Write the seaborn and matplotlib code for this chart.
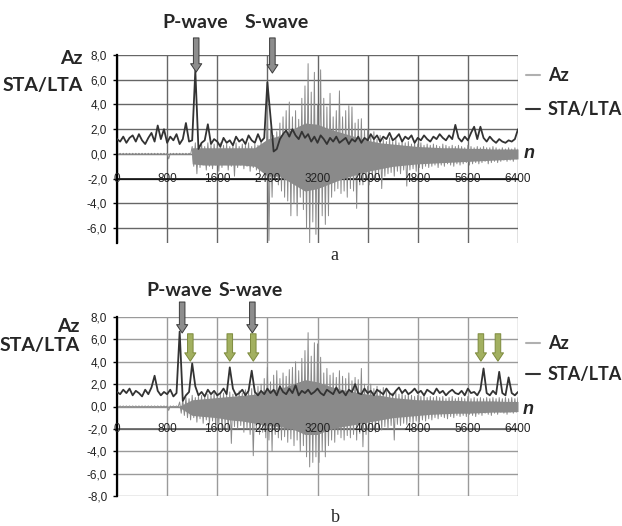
import numpy as np
import pandas as pd
import matplotlib
matplotlib.use("Agg")
import matplotlib.pyplot as plt
import seaborn as sns
from matplotlib.lines import Line2D

# amostras (passo de 50), envelopes
amostras = list(range(0, 6401, 50))

# painel a: envelope superior / inferior de Az (picos)
az_a_sup = [0.05] * 24 + [
    0.6, 0.9, 0.7, 0.8, 0.6, 0.9,
    0.7, 0.8, 0.6, 0.9, 0.7, 0.8, 0.6, 0.7, 0.9, 0.6,
    0.8, 0.7, 0.9, 0.6, 0.8, 0.7, 1.0, 0.9,
    4.2,
    2.0, 1.5, 1.8, 2.5, 3.0, 3.5, 4.2, 3.0, 3.5, 2.8, 4.5,
    5.5, 7.3, 5.0, 6.6, 4.0, 6.8, 4.5, 3.8, 4.9, 3.0,
    3.5, 5.1, 3.0, 3.5, 3.9, 3.8, 2.5, 2.8, 2.85, 2.0,
    2.0, 1.5, 1.8, 1.2, 1.5, 1.2, 1.0, 1.3, 1.0, 1.2,
    0.9, 1.0, 0.9, 1.0, 0.8, 0.9, 0.8, 0.9, 0.7, 0.8,
    0.7, 0.8, 0.7, 0.6, 0.8, 0.7, 0.6, 0.7, 0.6, 0.7,
    0.6, 0.5, 0.7, 0.6, 0.5, 0.6, 0.5, 0.6, 0.5, 0.5,
    0.6, 0.5, 0.4, 0.5, 0.4, 0.5, 0.4, 0.5, 0.4]
az_a_inf = [-0.05] * 16 + [-0.4] + [-0.05] * 7 + [
    -1.0, -1.6, -1.1, -0.9, -1.3, -1.0,
    -1.2, -0.9, -1.4, -1.1, -0.8, -1.3, -1.0, -1.8, -1.1, -0.9,
    -1.2, -1.0, -1.4, -1.1, -1.3, -1.5, -1.2, -1.6,
    -7.0,
    -3.5, -2.0, -2.5, -3.0, -3.5, -3.8, -5.0, -4.0, -5.0, -3.5, -4.5,
    -6.0, -7.2, -5.5, -6.5, -4.0, -5.0, -5.7, -5.0, -3.5, -3.0,
    -2.8, -3.2, -3.0, -3.5, -2.8, -3.0, -4.4, -2.5, -2.5, -2.0,
    -2.5, -2.0, -2.2, -1.8, -2.8, -1.8, -1.6, -1.5, -1.8, -1.4,
    -1.6, -1.3, -2.6, -1.3, -1.2, -1.4, -1.1, -1.2, -1.0, -1.1,
    -1.0, -0.9, -1.1, -0.9, -1.0, -0.8, -0.9, -1.0, -0.8, -0.9,
    -0.8, -0.7, -0.9, -0.8, -0.7, -0.8, -0.7, -0.6, -0.8, -0.7,
    -0.6, -0.7, -0.6, -0.5, -0.6, -0.5, -0.6, -0.4, -0.5]
# faixa densa (núcleo) de Az no painel a
nucleo_a_n = [0, 1190] + list(range(1200, 6401, 200))
nucleo_a_sup = [0.03, 0.03,
                0.5, 0.5, 0.5, 0.5, 0.5, 0.5, 1.2, 1.5, 2.0, 2.5,
                2.4, 2.0, 1.7, 1.4, 1.1, 0.9, 0.8, 0.7, 0.6,
                0.55, 0.5, 0.5, 0.45, 0.45, 0.4, 0.4, 0.4]
nucleo_a_inf = [-0.03, -0.03,
                -0.8, -0.9, -0.9, -0.9, -0.9, -1.0, -1.8, -1.8, -2.4, -3.0,
                -2.8, -2.4, -2.0, -1.7, -1.4, -1.2, -1.0, -0.9, -0.8,
                -0.75, -0.7, -0.65, -0.6, -0.55, -0.5, -0.45, -0.4]
sta_a = [
    1.2, 1.0, 1.4, 0.9, 1.3, 1.5, 1.0, 1.6, 1.1, 0.8,
    1.3, 1.7, 1.0, 2.3, 1.2, 2.0, 0.9, 1.4, 1.1, 1.6,
    0.8, 1.2, 2.5, 1.0, 1.1, 6.75, 0.4, 0.9, 1.1, 2.4,
    0.8, 1.2, 1.0, 0.6, 1.3, 0.9, 1.1, 0.7, 1.4, 1.0,
    1.2, 0.8, 1.5, 1.1, 0.9, 1.6, 1.0, 1.3, 5.8, 3.0,
    0.2, 0.4, 1.2, 1.6, 1.9, 1.4, 2.0, 1.5, 1.2, 1.8,
    1.3, 1.6, 1.0, 1.4, 0.9, 1.5, 1.2, 0.8, 1.3, 1.0,
    1.4, 0.9, 1.1, 1.3, 0.8, 1.2, 1.0, 1.4, 0.9, 1.3,
    1.1, 1.6, 1.2, 1.5, 1.0, 1.4, 1.2, 1.7, 1.1, 1.3,
    1.6, 1.0, 1.4, 1.2, 1.5, 0.9, 1.3, 1.1, 1.5, 1.2,
    1.0, 1.4, 1.2, 1.6, 1.3, 1.1, 1.5, 1.2, 2.35, 1.3,
    1.0, 1.4, 1.1, 1.7, 2.2, 1.2, 2.2, 1.3, 1.0, 1.4,
    1.1, 0.9, 1.2, 1.0, 0.9, 1.1, 1.0, 1.2, 2.0]

# painel b
az_b_sup = [0.05] * 20 + [
    0.4, 0.6, 0.8, 0.7, 1.0, 0.8, 0.9, 1.0, 0.9, 1.1,
    1.0, 1.2, 1.0, 1.1, 1.2, 1.0, 1.3, 1.1, 1.2, 1.4,
    1.2, 1.5, 1.3, 1.6, 1.4, 1.8, 2.0, 2.5, 3.5, 2.2,
    2.8, 3.2, 2.5, 3.0, 2.7, 3.3, 3.5, 4.0, 3.2, 4.3,
    5.0, 6.6, 4.5, 5.7, 5.6, 4.4, 3.0, 3.4, 2.8, 3.0,
    2.6, 3.2, 2.7, 2.5, 3.0, 2.3, 2.6, 2.4, 3.4, 2.0,
    1.8, 2.0, 1.6, 1.8, 1.5, 1.7, 1.4, 1.3, 1.2, 1.3,
    1.1, 1.2, 1.0, 1.1, 1.0, 0.9, 1.0, 0.9, 1.0, 0.8,
    0.9, 0.8, 0.9, 0.8, 0.9, 0.7, 0.8, 0.9, 0.7, 0.8,
    0.8, 0.7, 0.9, 0.7, 0.8, 0.7, 0.8, 0.7, 0.8, 0.7,
    0.8, 0.7, 0.8, 0.7, 0.8, 0.7, 0.8, 0.7, 0.8]
az_b_inf = [-0.05] * 16 + [-0.35] + [-0.05] * 3 + [
    -0.6, -0.8, -1.0, -1.2, -1.0, -1.4, -1.1, -1.5, -1.2, -1.6,
    -1.3, -1.8, -1.5, -2.0, -1.6, -2.2, -3.3, -1.8, -2.0, -1.7,
    -2.3, -2.0, -2.5, -4.4, -2.2, -2.5, -2.3, -2.8, -3.0, -4.0,
    -2.5, -2.8, -3.0, -2.7, -3.2, -2.9, -3.5, -3.0, -4.0, -3.5,
    -4.5, -5.4, -5.0, -4.5, -5.0, -4.0, -4.5, -3.5, -3.0, -3.2,
    -2.5, -2.8, -3.0, -2.6, -2.8, -2.5, -3.0, -2.4, -3.6, -2.5,
    -2.2, -2.0, -2.3, -1.9, -2.1, -1.8, -2.0, -1.7, -3.0, -1.6,
    -1.7, -1.5, -1.6, -1.4, -1.5, -1.3, -1.4, -1.2, -1.3, -1.1,
    -1.2, -1.0, -1.1, -0.9, -1.0, -1.1, -0.9, -1.0, -0.8, -0.9,
    -0.8, -0.9, -0.7, -0.8, -0.9, -0.7, -0.8, -0.6, -0.7, -0.8,
    -0.6, -0.7, -0.5, -0.6, -0.7, -0.5, -0.6, -0.5, -0.4]
nucleo_b_n = list(range(0, 6401, 200))
nucleo_b_sup = [0.03, 0.03, 0.03, 0.03, 0.03,
                0.05, 0.6, 0.7, 0.8, 0.9, 1.0, 1.1, 1.4, 1.6, 2.0,
                2.4, 2.2, 1.8, 1.5, 1.3, 1.1, 1.0, 0.8, 0.7, 0.6,
                0.6, 0.55, 0.55, 0.5, 0.5, 0.5, 0.45, 0.45]
nucleo_b_inf = [-0.03, -0.03, -0.03, -0.03, -0.03,
                -0.1, -0.8, -0.9, -1.0, -1.2, -1.3, -1.5, -1.7, -1.8, -2.0,
                -2.5, -2.5, -2.0, -1.8, -1.6, -1.4, -1.2, -1.0, -0.9, -0.8,
                -0.7, -0.65, -0.6, -0.6, -0.55, -0.5, -0.5, -0.45]
sta_b = [
    1.3, 1.1, 1.5, 1.2, 1.6, 1.0, 1.4, 1.2, 0.9, 1.5,
    1.1, 1.7, 2.75, 1.4, 1.0, 1.3, 1.1, 1.5, 0.9, 1.2,
    6.7, 0.5, 1.0, 1.3, 3.85, 1.8, 1.0, 1.3, 0.9, 1.5,
    1.1, 1.4, 1.0, 1.2, 1.6, 1.1, 3.5, 1.6, 1.0, 1.2,
    1.5, 1.0, 1.4, 3.2, 1.3, 1.0, 1.4, 1.1, 1.6, 1.2,
    1.5, 1.0, 1.8, 1.3, 1.1, 1.6, 1.2, 1.9, 1.0, 1.4,
    1.2, 1.5, 1.1, 1.3, 1.6, 1.2, 1.0, 1.5, 1.3, 1.1,
    1.7, 1.2, 1.4, 1.0, 1.5, 1.3, 2.0, 1.2, 1.1, 1.6,
    1.2, 1.4, 1.0, 1.5, 1.3, 1.1, 1.6, 1.2, 1.0, 1.4,
    1.7, 1.2, 1.5, 1.1, 1.3, 1.6, 1.2, 1.4, 1.0, 1.5,
    1.3, 1.1, 1.6, 1.2, 1.4, 1.0, 1.3, 1.5, 1.2, 1.1,
    1.4, 1.0, 1.6, 1.2, 1.3, 1.0, 1.5, 3.4, 1.2, 1.0,
    1.4, 1.1, 3.1, 1.2, 1.0, 2.6, 1.2, 1.0, 1.3]

ticks_x = [0, 800, 1600, 2400, 3200, 4000, 4800, 5600, 6400]
rotulos_x = ["0", "800", "1600", "2400", "3200", "4000", "4800", "5600", "6400"]

COR_AZ = "#8a8a8a"
COR_AZ_LEG = "#b0b0b0"
COR_STA = "#333333"
COR_SETA = "#8d8d8d"
COR_VERDE = "#a2b060"

W, H = 622, 526
NEGRITO = {"family": "Lato", "weight": "bold", "size": 13}
NEGRITO_G = {"family": "Lato", "weight": "bold", "size": 14}


def px(x, y):
    return x / W, 1 - y / H


def desenhar_painel(ax, az_sup, az_inf, nuc_n, nuc_sup, nuc_inf, sta,
                    ylim, yticks, cor_grade, cor_eixo, leg_y, leg_esp):
    n = np.array(amostras)
    x_zig = np.ravel(np.column_stack([n, n + 25]))
    y_zig = np.ravel(np.column_stack([az_sup, az_inf]))
    df_az = pd.DataFrame({"n": x_zig, "Az": y_zig})
    df_sta = pd.DataFrame({"n": n, "STA/LTA": sta})

    # sinal Az: núcleo denso + picos oscilantes
    ax.fill_between(nuc_n, nuc_inf, nuc_sup, color=COR_AZ, lw=0, zorder=2)
    sns.lineplot(data=df_az, x="n", y="Az", ax=ax, color=COR_AZ, lw=0.7,
                 sort=False, estimator=None, legend=False, zorder=2)
    sns.lineplot(data=df_sta, x="n", y="STA/LTA", ax=ax, color=COR_STA, lw=1.3,
                 sort=False, estimator=None, legend=False, zorder=3)

    ax.set_xlim(0, 6400)
    ax.set_ylim(*ylim)
    ax.set_xticks(ticks_x)
    ax.set_yticks(yticks)
    ax.set_yticklabels([f"{v:.1f}".replace(".", ",") for v in yticks])
    ax.set_xlabel("")
    ax.set_ylabel("")
    ax.grid(True, color=cor_grade, lw=1.0)
    ax.set_axisbelow(True)
    for lado in ["top", "right", "bottom"]:
        ax.spines[lado].set_visible(False)
    ax.spines["left"].set_color("black")
    ax.spines["left"].set_linewidth(1.6)
    ax.tick_params(axis="x", length=0, labelbottom=False)
    ax.tick_params(axis="y", length=3, width=1, color="black", pad=4,
                   labelsize=8.5, labelcolor="#222222", left=True)
    for lbl in ax.get_yticklabels():
        lbl.set_family("Liberation Sans")

    ax.axhline(-2, color=cor_eixo, lw=1.1, zorder=1.5)
    for xt, rot in zip(ticks_x, rotulos_x):
        ax.text(xt, -2, rot, ha="center", va="center", fontsize=8.5,
                family="Liberation Sans", color="#222222", zorder=5)

    handles = [Line2D([0], [0], color=COR_AZ_LEG, lw=1.5, label="Az"),
               Line2D([0], [0], color=COR_STA, lw=1.5, label="STA/LTA")]
    ax.legend(handles=handles, loc="center left", bbox_to_anchor=(1.02, leg_y),
              frameon=False, handlelength=0.8, handletextpad=0.4,
              labelspacing=leg_esp, borderpad=0, borderaxespad=0, prop=NEGRITO)


def seta(ax, n, y0, y1, cor, borda):
    ax.annotate("", xy=(n, y1), xytext=(n, y0), annotation_clip=False,
                arrowprops=dict(arrowstyle="simple,head_length=0.6,head_width=0.8,tail_width=0.4",
                                fc=cor, ec=borda, lw=0.7, shrinkA=0, shrinkB=0,
                                mutation_scale=10), zorder=6)


def main():
    sns.set_theme(style="white")
    plt.rcParams["font.family"] = ["Liberation Sans", "DejaVu Sans"]

    fig = plt.figure(figsize=(W / 100, H / 100), dpi=100)
    ax_a = fig.add_axes([117 / W, 1 - 243 / H, 401 / W, 188 / H])
    ax_b = fig.add_axes([117 / W, 1 - 496 / H, 401 / W, 179 / H])

    desenhar_painel(ax_a, az_a_sup, az_a_inf, nucleo_a_n, nucleo_a_sup, nucleo_a_inf,
                    sta_a, (-7.2, 8.0), [-6, -4, -2, 0, 2, 4, 6, 8],
                    "#666666", "black", 0.80, 0.95)
    desenhar_painel(ax_b, az_b_sup, az_b_inf, nucleo_b_n, nucleo_b_sup, nucleo_b_inf,
                    sta_b, (-8.0, 8.0), [-8, -6, -4, -2, 0, 2, 4, 6, 8],
                    "#9a9a9a", "#555555", 0.765, 0.75)

    seta(ax_a, 1264, 9.38, 6.62, COR_SETA, "#3a3a3a")
    seta(ax_a, 2480, 9.38, 6.54, COR_SETA, "#3a3a3a")
    seta(ax_b, 1040, 9.34, 6.57, COR_SETA, "#3a3a3a")
    seta(ax_b, 2160, 9.34, 6.57, COR_SETA, "#3a3a3a")
    for n_verde in [1170, 1800, 2175, 5808, 6080]:
        seta(ax_b, n_verde, 6.5, 4.05, COR_VERDE, "#7d8a3d")

    # textos
    for (x, y), txt in [((195, 22), "P-wave"), ((277, 22), "S-wave"),
                        ((179, 290), "P-wave"), ((251, 290), "S-wave")]:
        fig.text(*px(x, y), txt, ha="center", va="center", **NEGRITO_G)
    for (x, y), txt in [((83, 59), "Az"), ((83, 86), "STA/LTA"),
                        ((80, 326), "Az"), ((80, 345), "STA/LTA")]:
        fig.text(*px(x, y), txt, ha="right", va="center", **NEGRITO_G)
    for (x, y) in [(529, 153), (528, 410)]:
        fig.text(*px(x, y), "n", ha="center", va="center", family="Liberation Sans",
                 weight="bold", style="italic", size=13)
    fig.text(*px(334, 256), "a", ha="center", va="center", family="Liberation Serif", size=13)
    fig.text(*px(335, 517), "b", ha="center", va="center", family="Liberation Serif", size=13)

    fig.savefig("out.png", dpi=100)


if __name__ == "__main__":
    main()
